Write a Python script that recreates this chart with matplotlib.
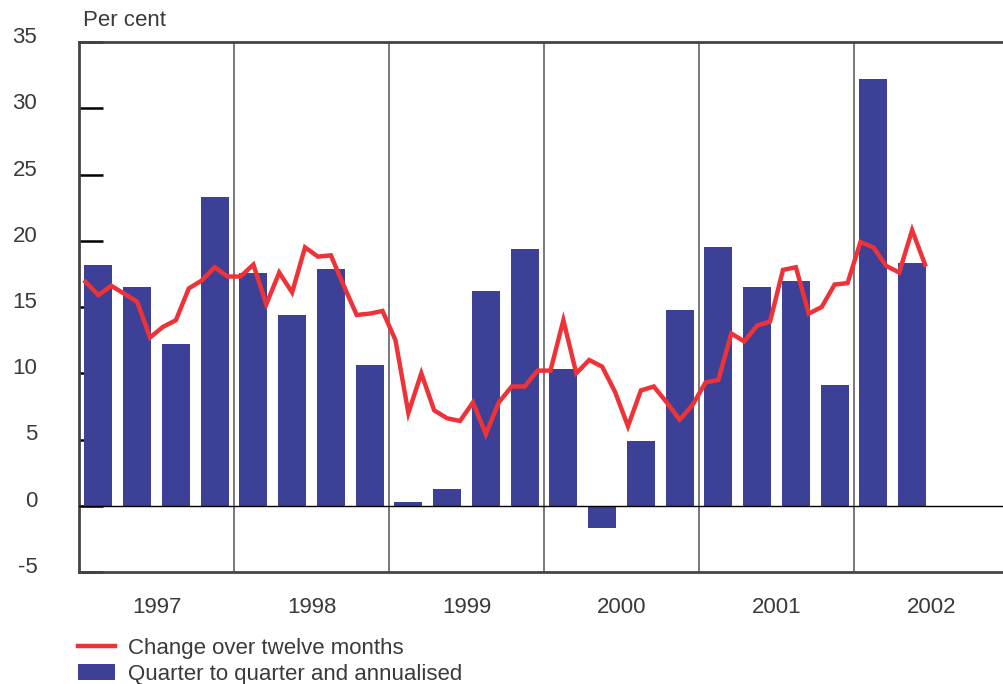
import matplotlib
matplotlib.use("Agg")
import matplotlib.pyplot as plt
import matplotlib.transforms as mtransforms
import numpy as np

plt.rcParams['font.family'] = ['Liberation Sans', 'DejaVu Sans']

years = ['1997', '1998', '1999', '2000', '2001', '2002']

# Quarter to quarter, annualised (1997 Q1 - 2002 Q2)
quarterly = [18.2, 16.5, 12.2, 23.3,
             17.6, 14.4, 17.9, 10.6,
             0.3, 1.3, 16.2, 19.4,
             10.3, -1.7, 4.9, 14.8,
             19.5, 16.5, 17.0, 9.1,
             32.2, 18.3]

# Change over twelve months (Jan 1997 - Jun 2002)
monthly = [16.9, 15.9, 16.6, 16.0, 15.4, 12.7, 13.5, 14.0, 16.4, 17.0, 18.0, 17.3,
           17.3, 18.2, 15.2, 17.6, 16.1, 19.5, 18.8, 18.9, 16.6, 14.4, 14.5, 14.7,
           12.5, 7.0, 10.0, 7.2, 6.6, 6.4, 7.8, 5.4, 7.8, 9.0, 9.0, 10.2,
           10.2, 14.0, 10.0, 11.0, 10.5, 8.6, 6.0, 8.7, 9.0, 7.8, 6.5, 7.6,
           9.3, 9.5, 13.0, 12.4, 13.6, 13.9, 17.8, 18.0, 14.5, 15.0, 16.7, 16.8,
           19.9, 19.5, 18.1, 17.6, 20.8, 18.2]

yticks = [-5, 0, 5, 10, 15, 20, 25, 30, 35]

bar_color = '#3c4096'
line_color = '#ee3338'
text_color = '#3a3a3a'
fs = 16

W, H = 1004, 684
fig = plt.figure(figsize=(W / 100, H / 100), dpi=100)
ax_left, ax_right, ax_top, ax_bot = 79, 1004, 42, 572
ax = fig.add_axes([ax_left / W, 1 - ax_bot / H, (ax_right - ax_left) / W, (ax_bot - ax_top) / H])

px_per_month = 155 / 12.0
xq = np.arange(len(quarterly)) * 3 + 1.5
xm = np.arange(len(monthly)) + 0.5

bars = ax.bar(xq, quarterly, width=2.17, color=bar_color, zorder=2,
              label='Quarter to quarter and annualised')
line, = ax.plot(xm, monthly, color=line_color, lw=3.2, zorder=4,
                solid_joinstyle='miter', label='Change over twelve months')

ax.axhline(0, color='black', lw=1.0, zorder=3)
for k in range(1, len(years)):
    ax.axvline(12 * k, color='#555555', lw=1.1, zorder=1)

ax.set_xlim(0, (ax_right - ax_left) / px_per_month)
ax.set_ylim(-5, 35)

for s in ['left', 'top', 'bottom']:
    ax.spines[s].set_color('#444444')
    ax.spines[s].set_linewidth(2.0)
ax.spines['right'].set_visible(False)

ax.set_yticks(yticks)
ax.set_yticklabels([str(v) for v in yticks])
ax.tick_params(axis='y', direction='in', length=17, width=1.8, color='black',
               pad=30, labelsize=fs, labelcolor=text_color)
offset = mtransforms.ScaledTranslation(0, 7 / 100, fig.dpi_scale_trans)
for lab in ax.get_yticklabels():
    lab.set_transform(lab.get_transform() + offset)

ax.set_xticks([12 * k + 6 for k in range(len(years))])
ax.set_xticklabels(years)
ax.tick_params(axis='x', length=0, pad=18, labelsize=fs, labelcolor=text_color)

fig.text(83 / W, 1 - 20 / H, 'Per cent', fontsize=fs, color=text_color,
         ha='left', va='center')

fig.legend(handles=[line, bars], loc='upper left',
           bbox_to_anchor=(78 / W, 1 - 638 / H), frameon=False,
           fontsize=fs, handlelength=1.67, handletextpad=0.59,
           labelspacing=0.22, borderaxespad=0, borderpad=0,
           labelcolor=text_color)

fig.savefig('out.png', dpi=100)
